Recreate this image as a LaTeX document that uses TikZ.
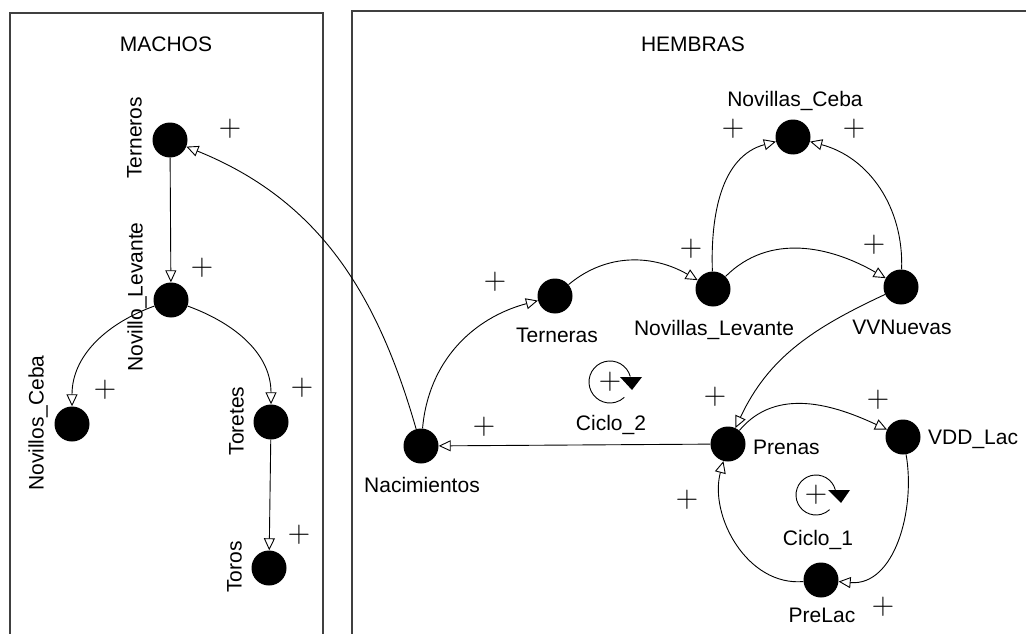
\documentclass[tikz,border=0pt]{standalone}
\usepackage{fontspec}
\setmainfont{Liberation Sans}
\newfontfamily\plusfont{Latin Modern Roman}
\usetikzlibrary{arrows.meta}
\begin{document}
\begin{tikzpicture}[x=1pt,y=1pt,
  stock/.style={circle,fill=black,minimum size=35pt,inner sep=0pt},
  lbl/.style={font=\fontsize{21}{24}\selectfont,inner sep=0pt,text height=15pt,text depth=0pt},
  pl/.style={font=\plusfont\fontsize{31}{31}\selectfont,inner sep=0pt},
  link/.style={line width=0.9pt,-{Triangle[open,length=12pt,width=11pt,line width=0.9pt]}},
  frame/.style={line width=1.6pt,draw=black!75},
  loopc/.style={line width=0.9pt}]
\useasboundingbox (0,0) rectangle (1026,-634);
\clip (0,0) rectangle (1026,-634);
\fill[white] (0,0) rectangle (1026,-634);
% frames
\draw[frame] (10,-13) rectangle (323,-660);
\draw[frame] (352,-11) rectangle (1060,-660);
\node[lbl] (machos) at (166,-44) {MACHOS};
\node[lbl] (hembras) at (693,-44) {HEMBRAS};
% stocks
\node[stock] (tm) at (170,-140) {};
\node[stock] (nlm) at (171,-300) {};
\node[stock] (ncm) at (72,-424) {};
\node[stock] (tor) at (271,-422) {};
\node[stock] (toros) at (269,-568) {};
\node[stock] (nac) at (421,-446) {};
\node[stock] (ternf) at (555,-296) {};
\node[stock] (nlf) at (713,-289) {};
\node[stock] (ncf) at (793,-137) {};
\node[stock] (vv) at (901,-287) {};
\node[stock] (pre) at (728,-444) {};
\node[stock] (vdd) at (903,-437) {};
\node[stock] (prel) at (821,-580) {};
% labels
\node[lbl,rotate=90] (ltm) at (134,-138) {Terneros};
\node[lbl,rotate=90] (lnlm) at (135,-297) {Novillo\_Levante};
\node[lbl,rotate=90] (lncm) at (36,-423) {Novillos\_Ceba};
\node[lbl,rotate=90] (ltor) at (236,-421) {Toretes};
\node[lbl,rotate=90] (ltoros) at (234,-567) {Toros};
\node[lbl] (lnac) at (422,-485) {Nacimientos};
\node[lbl] (lternf) at (557,-335) {Terneras};
\node[lbl] (lnlf) at (714,-328) {Novillas\_Levante};
\node[lbl] (lncf) at (795,-99) {Novillas\_Ceba};
\node[lbl] (lvv) at (902,-327) {VVNuevas};
\node[lbl,anchor=west] (lpre) at (753,-447) {Prenas};
\node[lbl,anchor=west] (lvdd) at (928,-437) {VDD\_Lac};
\node[lbl] (lprel) at (822,-615) {PreLac};
\node[lbl] (lc2) at (611,-423) {Ciclo\_2};
\node[lbl] (lc1) at (818,-538) {Ciclo\_1};
% connectors
\draw[link] (nac) to[out=106,in=-22] (tm);
\draw[link] (tm) -- (nlm);
\draw[link] (nlm) to[out=200,in=90] (ncm);
\draw[link] (nlm) to[out=-20,in=90] (tor);
\draw[link] (tor) -- (toros);
\draw[link] (nac) to[out=85,in=195] (ternf);
\draw[link] (ternf) to[out=40,in=150] (nlf);
\draw[link] (nlf) to[out=92,in=195] (ncf);
\draw[link] (vv) to[out=88,in=-15] (ncf);
\draw[link] (nlf) to[out=45,in=150] (vv);
\draw[link] (vv) to[out=205,in=65] (pre);
\draw[link] (pre) -- (nac);
\draw[link] (pre) to[out=50,in=155] (vdd);
\draw[link] (vdd) to[out=-80,in=-5] (prel);
\draw[link] (prel) to[out=185,in=255] (pre);
% polarity signs
\node[pl] (p1) at (230,-129) {+};
\node[pl] (p2) at (202,-268) {+};
\node[pl] (p3) at (105,-390) {+};
\node[pl] (p4) at (302,-388) {+};
\node[pl] (p5) at (299,-535) {+};
\node[pl] (p6) at (484,-427) {+};
\node[pl] (p7) at (495,-282) {+};
\node[pl] (p8) at (691,-249) {+};
\node[pl] (p9) at (733,-129) {+};
\node[pl] (p10) at (854,-129) {+};
\node[pl] (p11) at (874,-245) {+};
\node[pl] (p12) at (715,-397) {+};
\node[pl] (p13) at (878,-400) {+};
\node[pl] (p14) at (883,-607) {+};
\node[pl] (p15) at (687,-500) {+};
% loop symbols
\coordinate (c2) at (610,-382);
\draw[loopc] (c2) ++(15:21) arc[start angle=15,end angle=313,radius=21];
\fill[shift={(c2)}] (10,5) -- (32,5) -- (22,-8) -- cycle;
\node[pl] (pc2) at (c2) {+};
\coordinate (c1) at (816,-495);
\draw[loopc] (c1) ++(15:20) arc[start angle=15,end angle=313,radius=20];
\fill[shift={(c1)}] (12,5) -- (34,5) -- (25,-8) -- cycle;
\node[pl] (pc1) at (c1) {+};
\end{tikzpicture}
\end{document}
